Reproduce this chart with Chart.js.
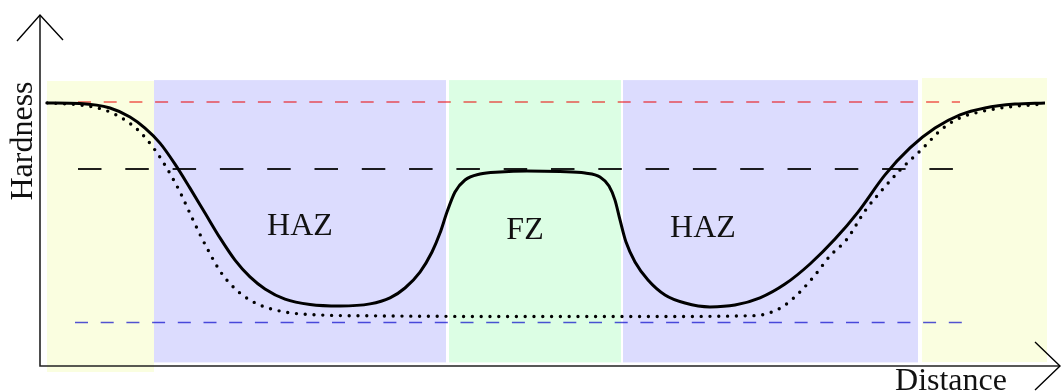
<!DOCTYPE html>
<html lang="en">
  <head>
    <meta charset="utf-8" />
    <title>Hardness profile</title>
    <style>
      * {
        margin: 0;
        padding: 0;
      }
      body {
        background: white;
      }
    </style>
  </head>
  <body>
    <canvas id="myChart" width="1061" height="392"></canvas>

    <script src="https://cdn.jsdelivr.net/npm/chart.js"></script>
    <script>
      // measured hardness profile (solid) and the second profile (dotted)
      const solidDist = [
        0.7, 4.0, 7.0, 9.0, 10.5, 12.0, 13.5, 15.0, 16.5, 18.0, 19.5, 21.0,
        22.5, 24.5, 27.0, 30.0, 33.0, 35.0, 36.5, 38.0, 39.2, 40.0, 40.7, 41.5,
        42.5, 44.0, 46.0, 48.7, 52.0, 54.5, 56.0, 56.9, 57.5, 58.0, 58.6, 59.5,
        60.8, 62.5, 64.5, 67.0, 69.5, 72.0, 74.5, 77.0, 79.5, 81.8, 84.5, 87.0,
        89.5, 92.0, 94.5, 97.5, 100.5,
      ];
      const solidHard = [
        87.7, 87.5, 86.0, 83.0, 79.3, 74.3, 67.3, 59.3, 51.0, 42.7, 35.3, 29.7,
        25.7, 22.3, 20.5, 20.0, 20.7, 22.7, 26.0, 31.3, 38.0, 44.3, 51.3, 58.0,
        62.0, 64.0, 64.7, 65.0, 64.8, 64.3, 63.0, 60.0, 55.3, 48.7, 41.3, 34.7,
        28.7, 23.7, 21.0, 19.7, 20.3, 22.7, 27.3, 34.0, 42.3, 51.3, 63.7, 72.7,
        79.3, 83.7, 86.0, 87.3, 87.7,
      ];
      const dottedDist = [
        0.7, 4.0, 6.5, 8.5, 10.0, 11.5, 12.8, 14.0, 15.3, 16.7, 18.2, 20.0,
        22.0, 24.5, 28.0, 34.0, 46.0, 61.0, 71.5, 73.2, 74.5, 76.0, 77.5, 79.0,
        80.7, 82.5, 84.3, 86.0, 88.2, 90.2, 92.0, 94.0, 96.5, 100.2,
      ];
      const dottedHard = [
        87.7, 87.0, 85.3, 82.0, 78.0, 72.0, 65.3, 58.0, 48.7, 39.3, 30.7, 24.3,
        20.3, 18.0, 17.0, 16.7, 16.5, 16.5, 16.8, 18.0, 20.3, 24.7, 30.3, 36.7,
        42.3, 51.7, 59.0, 65.3, 72.3, 79.0, 82.7, 84.7, 86.2, 87.3,
      ];

      // horizontal reference levels: base metal, mid, minimum
      const refLevel = [88.0, 65.7, 14.5];
      const refFrom = [3.8, 3.8, 3.5];
      const refTo = [92.0, 91.3, 93.2];

      // zones along the distance axis
      const zoneNames = ["", "HAZ", "FZ", "HAZ", ""];
      const zoneFrom = [0.7, 11.4, 40.9, 58.3, 88.2];
      const zoneTo = [11.4, 40.6, 58.1, 87.8, 100.7];
      const zoneTop = [95.0, 95.3, 95.3, 95.3, 96.0];
      const zoneBottom = [-2.0, 1.2, 1.2, 1.2, 1.3];

      const zoneColors = ["#fafee0", "#dcdcfe", "#dcfee4", "#dcdcfe", "#fafee0"];
      const labelDist = [0, 26.0, 48.5, 66.3, 0];
      const labelHard = [0, 43.7, 42.3, 43.0, 0];

      const refColors = [
        "rgba(235, 0, 0, 0.65)",
        "rgba(0, 0, 0, 0.88)",
        "rgba(0, 0, 200, 0.68)",
      ];
      const refDash = [
        [13, 12.7],
        [23.5, 23.8],
        [13, 12.7],
      ];
      const refWidth = [1.3, 2, 1.3];

      const toPoints = (xs, ys) => xs.map((x, i) => ({ x: x, y: ys[i] }));

      const datasets = [
        {
          data: toPoints(solidDist, solidHard),
          borderColor: "#000",
          borderWidth: 3,
          cubicInterpolationMode: "monotone",
          pointRadius: 0,
        },
        {
          data: toPoints(dottedDist, dottedHard),
          borderColor: "#000",
          borderWidth: 3.4,
          borderDash: [0, 8.8],
          borderCapStyle: "round",
          cubicInterpolationMode: "monotone",
          pointRadius: 0,
        },
      ];
      refLevel.forEach((lvl, i) => {
        datasets.push({
          data: [
            { x: refFrom[i], y: lvl },
            { x: refTo[i], y: lvl },
          ],
          borderColor: refColors[i],
          borderWidth: refWidth[i],
          borderDash: refDash[i],
          pointRadius: 0,
        });
      });

      const zones = {
        id: "zones",
        beforeDatasetsDraw(chart) {
          const {
            ctx,
            scales: { x, y },
          } = chart;
          ctx.save();
          for (let i = 0; i < zoneFrom.length; i++) {
            const x0 = x.getPixelForValue(zoneFrom[i]);
            const x1 = x.getPixelForValue(zoneTo[i]);
            const y0 = y.getPixelForValue(zoneTop[i]);
            const y1 = y.getPixelForValue(zoneBottom[i]);
            ctx.fillStyle = zoneColors[i];
            ctx.fillRect(x0, y0, x1 - x0, y1 - y0);
          }
          ctx.restore();
        },
      };

      const axesAndText = {
        id: "axesAndText",
        afterDraw(chart) {
          const {
            ctx,
            chartArea: { left, right, top, bottom },
            scales: { x, y },
          } = chart;
          ctx.save();
          ctx.strokeStyle = "#222";
          ctx.lineWidth = 1.6;
          ctx.beginPath();
          ctx.moveTo(left, top);
          ctx.lineTo(left, bottom);
          ctx.lineTo(right, bottom);
          ctx.stroke();

          // open arrow heads
          ctx.lineWidth = 1.4;
          ctx.strokeStyle = "#000";
          ctx.beginPath();
          ctx.moveTo(left - 23, top + 26);
          ctx.lineTo(left, top);
          ctx.lineTo(left + 23, top + 25);
          ctx.moveTo(right - 25, bottom - 24);
          ctx.lineTo(right, bottom);
          ctx.lineTo(right - 25, bottom + 24);
          ctx.stroke();

          ctx.fillStyle = "#111";
          ctx.font = '32px "Liberation Serif"';
          ctx.textAlign = "center";
          ctx.textBaseline = "alphabetic";
          zoneNames.forEach((name, i) => {
            if (!name) return;
            ctx.fillText(
              name,
              x.getPixelForValue(labelDist[i]),
              y.getPixelForValue(labelHard[i])
            );
          });

          ctx.fillText("Distance", 951, 390);

          ctx.translate(32, 141);
          ctx.rotate(-Math.PI / 2);
          ctx.fillText("Hardness", 0, 0);
          ctx.restore();
        },
      };

      const config = {
        type: "line",
        data: { datasets: datasets },
        options: {
          responsive: false,
          animation: false,
          layout: {
            padding: { left: 40, top: 15, right: 1, bottom: 26 },
          },
          plugins: {
            legend: { display: false },
            tooltip: { enabled: false },
          },
          scales: {
            x: { type: "linear", min: 0, max: 102, display: false },
            y: { type: "linear", min: 0, max: 117, display: false },
          },
        },
        plugins: [zones, axesAndText],
      };

      const myChart = new Chart(document.getElementById("myChart"), config);
    </script>
  </body>
</html>
